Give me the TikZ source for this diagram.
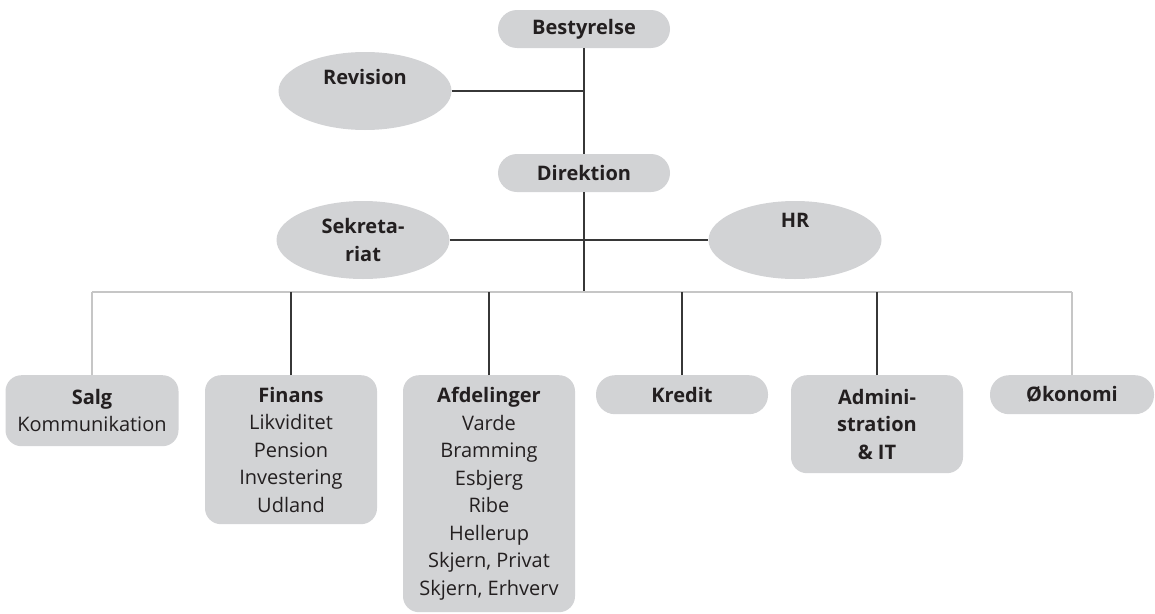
\documentclass[tikz,border=0pt]{standalone}
\usepackage{fontspec}
\setmainfont{Open Sans}
\usetikzlibrary{shapes.geometric,calc}
\definecolor{boxgray}{RGB}{210,211,213}
\definecolor{txt}{RGB}{35,31,32}
\definecolor{dline}{RGB}{55,55,55}
\definecolor{lline}{RGB}{198,198,198}
\begin{document}
\begin{tikzpicture}[x=1pt,y=-1pt,
  txtfont/.style={font=\fontsize{20}{27.5}\selectfont, text=txt},
  pill/.style={txtfont, fill=boxgray, rounded corners=19pt, minimum width=172pt, minimum height=38pt, inner sep=0pt, align=center},
  box/.style={txtfont, fill=boxgray, rounded corners=16pt, minimum width=172pt, inner sep=0pt, align=center, anchor=north},
  oval/.style={txtfont, ellipse, fill=boxgray, minimum width=173pt, minimum height=78pt, inner sep=0pt, align=center},
  lab/.style={txtfont, inner sep=0pt},
  dk/.style={draw=dline, line width=1.3pt},
  lt/.style={draw=lline, line width=1.4pt}]
\useasboundingbox (0,0) rectangle (1155,613);

% top level
\node[pill] (best) at (584,29) {\textbf{Bestyrelse}};
\node[pill] (dir) at (584,173) {\textbf{Direktion}};
\node[oval, label={[lab, yshift=14pt]center:\textbf{Revision}}] (rev) at (365,91) {};
\node[oval] (sek) at (363,240) {\textbf{Sekreta-}\\\textbf{riat}};
\node[oval, label={[lab, yshift=20pt]center:\textbf{HR}}] (hr) at (795,240) {};

% bus coordinate
\coordinate (busy) at (0,292);

% bottom boxes
\node[box, minimum width=173pt, minimum height=71pt] (salg) at (92,375) {\textbf{Salg}\\Kommunikation};
\node[box, minimum height=149pt] (fin) at (291,375) {\textbf{Finans}\\Likviditet\\Pension\\Investering\\Udland};
\node[box, minimum height=237pt] (afd) at (489,375) {\textbf{Afdelinger}\\Varde\\Bramming\\Esbjerg\\Ribe\\Hellerup\\Skjern, Privat\\Skjern, Erhverv};
\node[box, rounded corners=19pt, minimum height=39pt] (kre) at (682,375) {\textbf{Kredit}};
\node[box, minimum height=98pt] (adm) at (877,375) {\textbf{Admini-}\\\textbf{stration}\\\textbf{\& IT}};
\node[box, rounded corners=19pt, minimum width=164pt, minimum height=39pt] (oko) at (1072,375) {\textbf{Økonomi}};

% connectors
\draw[dk] (best.south) -- (dir.north);
\draw[dk] (rev.east) -- (rev.east -| best.south);
\draw[dk] (sek.east) -- (hr.west);
\draw[dk] (dir.south) -- (dir.south |- busy);
\draw[lt] (salg.north |- busy) -- (oko.north |- busy);
\draw[lt] (salg.north) -- (salg.north |- busy);
\draw[lt] (oko.north) -- (oko.north |- busy);
\draw[dk] (fin.north) -- (fin.north |- busy);
\draw[dk] (afd.north) -- (afd.north |- busy);
\draw[dk] (kre.north) -- (kre.north |- busy);
\draw[dk] (adm.north) -- (adm.north |- busy);
\end{tikzpicture}
\end{document}
